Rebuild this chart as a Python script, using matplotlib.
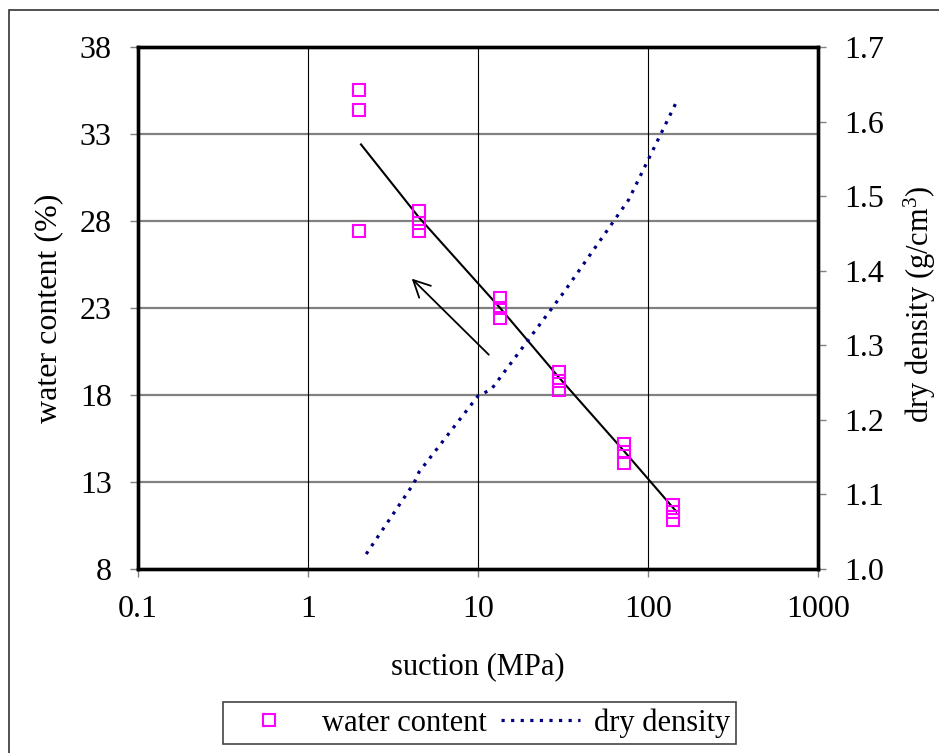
import matplotlib.pyplot as plt
from matplotlib.patches import Rectangle
from matplotlib.lines import Line2D

plt.rcParams['font.family'] = ['Liberation Serif', 'DejaVu Serif']
plt.rcParams['mathtext.fontset'] = 'custom'
plt.rcParams['mathtext.rm'] = 'Liberation Serif'
plt.rcParams['mathtext.it'] = 'Liberation Serif'

# %% data
wc_suction = [2, 2, 2, 4.5, 4.5, 4.5, 13.5, 13.5, 13.5, 30, 30, 30, 72, 72, 72, 141, 141, 141]
wc_values = [35.5, 34.4, 27.4, 28.6, 27.9, 27.4, 23.6, 23.0, 22.4,
             19.3, 18.8, 18.3, 15.2, 14.7, 14.1, 11.7, 11.3, 10.8]

trend_suction = [2.05, 4.5, 13.5, 30, 72, 147]
trend_wc = [32.4, 28.2, 23.0, 19.0, 14.8, 11.3]

dd_suction = [2.2, 4.2, 4.5, 10, 12, 32, 77, 147]
dd_values = [1.02, 1.115, 1.13, 1.232, 1.241, 1.371, 1.495, 1.626]

x_ticks = [0.1, 1, 10, 100, 1000]
x_ticklabels = ['0.1', '1', '10', '100', '1000']
wc_ticks = [8, 13, 18, 23, 28, 33, 38]
dd_ticks = [1.0, 1.1, 1.2, 1.3, 1.4, 1.5, 1.6, 1.7]

# %% figure
fig = plt.figure(figsize=(9.39, 7.53), dpi=100)
# outer frame of the original figure
fig.patches.append(Rectangle((9/939, -0.1), 1.2, 1.1 - 10/753, transform=fig.transFigure,
                             fill=False, edgecolor='#333333', lw=1.2))

ax = fig.add_axes([0.147, 0.2444, 0.724, 0.6932])
ax.set_xscale('log')
ax.set_xlim(0.1, 1000)
ax.set_ylim(8, 38)
ax.set_xticks(x_ticks)
ax.set_xticklabels(x_ticklabels)
ax.minorticks_off()
ax.set_yticks(wc_ticks)

for y in wc_ticks[1:-1]:
    ax.axhline(y, color='#808080', lw=1.6, zorder=0)
for x in x_ticks[1:-1]:
    ax.axvline(x, color='black', lw=0.8, zorder=0)

ax2 = ax.twinx()
ax2.set_ylim(1.0, 1.7)
ax2.set_yticks(dd_ticks)
ax2.set_yticklabels([f'{v:.1f}' for v in dd_ticks])

dd_style = dict(color='#000080', lw=2.3, ls=(0, (1.0, 2.0)))

ax.plot(wc_suction, wc_values, 's', mfc='none', mec='#ff00ff', ms=8, mew=1.5, zorder=5)
ax.plot(trend_suction, trend_wc, color='black', lw=1.5, zorder=4)
ax2.plot(dd_suction, dd_values, zorder=4, **dd_style)

ax.annotate('', xy=(3.97, 24.8), xytext=(11.9, 20.2),
            arrowprops=dict(arrowstyle='->', color='black', lw=1.3, mutation_scale=30))

for a in (ax, ax2):
    for s in a.spines.values():
        s.set_linewidth(2.4)
        s.set_color('black')
    a.tick_params(direction='out', length=6, width=1, color='#808080',
                  labelsize=23, pad=13)

ax.set_xlabel('suction (MPa)', fontsize=22, labelpad=20)
ax.set_ylabel('water content (%)', fontsize=23, labelpad=12)
fig.text(920/939, 1 - 304/753, 'dry density (g/cm$^{3}$)', fontsize=22,
         rotation=90, ha='center', va='center')

handles = [Line2D([], [], ls='none', marker='s', mfc='none', mec='#ff00ff', ms=8, mew=1.5),
           Line2D([], [], **dd_style)]
leg = fig.legend(handles, ['water content', 'dry density'], loc='center',
                 bbox_to_anchor=(0.5107, 0.0398), ncol=2, fontsize=22,
                 fancybox=False, framealpha=1, edgecolor='#444444',
                 handlelength=2.6, columnspacing=0.45, handletextpad=0.45,
                 borderpad=0.2, borderaxespad=0)
leg.get_frame().set_linewidth(1.2)

fig.savefig('out.png', dpi=100)
